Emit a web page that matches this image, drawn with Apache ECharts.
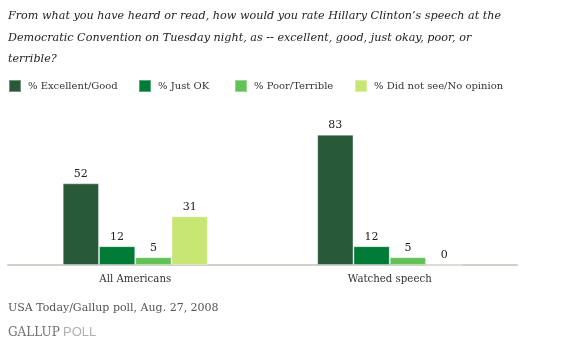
<!DOCTYPE html>
<html><head><meta charset="utf-8">
<script src="https://cdn.jsdelivr.net/npm/echarts@6/dist/echarts.min.js"></script>
<style>html,body{margin:0;padding:0;background:#fff}#c{width:573px;height:356px}</style>
</head><body><div id="c"></div>
<script>
var categories = ["All Americans", "Watched speech"];
var seriesNames = ["% Excellent/Good", "% Just OK", "% Poor/Terrible", "% Did not see/No opinion"];
var excellentGood = [52, 83];
var justOK = [12, 12];
var poorTerrible = [5, 5];
var didNotSee = [31, 0];
var colors = ["#285a3a", "#007a37", "#62c255", "#c8e673"];
var titleText = "From what you have heard or read, how would you rate Hillary Clinton\u2019s speech at the\nDemocratic Convention on Tuesday night, as -- excellent, good, just okay, poor, or\nterrible?";
var sourceText = "USA Today/Gallup poll, Aug. 27, 2008";

var serif = "'DejaVu Serif', serif";
var data = [excellentGood, justOK, poorTerrible, didNotSee];
var legendLefts = [8, 138, 234, 354];
var chart = echarts.init(document.getElementById('c'), null, {renderer: 'canvas'});
chart.setOption({
  animation: false,
  title: {
    text: titleText, left: 8, top: 5, padding: 0,
    textStyle: {fontFamily: serif, fontStyle: 'italic', fontWeight: 'normal', fontSize: 11.2, color: '#222', lineHeight: 21.8}
  },
  legend: seriesNames.map(function(n, i){
    return {
      left: legendLefts[i], top: 79, padding: 0, itemWidth: 12, itemHeight: 12,
      icon: 'rect', data: [n],
      textStyle: {fontFamily: serif, fontSize: 10, color: '#333', padding: [1,0,0,2]}
    };
  }),
  grid: {left: 8, right: 56, top: 108, height: 157, containLabel: false},
  xAxis: {
    type: 'category', data: categories,
    axisLine: {lineStyle: {color: '#d0d0c8', width: 2}},
    axisTick: {show: false},
    axisLabel: {fontFamily: serif, fontSize: 10.2, color: '#333', margin: 9}
  },
  yAxis: {type: 'value', min: 0, max: 100, show: false, splitLine: {show: false}},
  series: seriesNames.map(function(n, i){
    return {
      name: n, type: 'bar', data: data[i],
      barGap: '0%', barCategoryGap: '43%',
      itemStyle: {color: colors[i], borderColor: 'rgba(255,255,255,0.35)', borderWidth: 1},
      label: {show: true, position: 'top', distance: 4, fontFamily: serif, fontSize: 11, color: '#222'}
    };
  }),
  graphic: [
    {type: 'text', left: 8, top: 303, style: {text: sourceText, font: "11px 'DejaVu Serif', serif", fill: '#555'}},
    {type: 'text', left: 8, top: 327, style: {text: 'GALLUP', font: "12px 'DejaVu Serif', serif", fill: '#707070'}},
    {type: 'text', left: 63, top: 326, style: {text: 'POLL', font: "13px 'Liberation Sans', sans-serif", fill: '#b0b0b0'}}
  ]
});
</script></body></html>
